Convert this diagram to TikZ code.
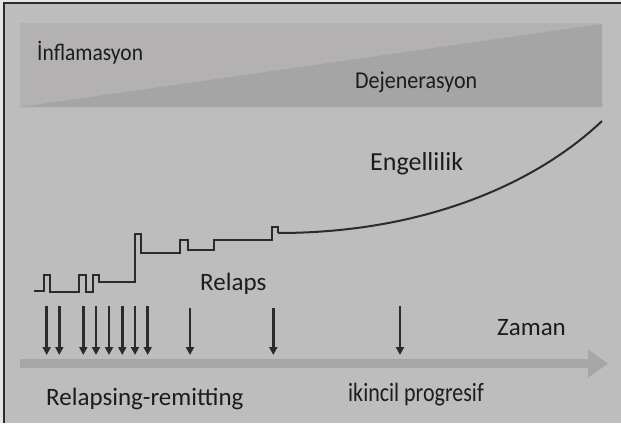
\documentclass[tikz,border=0pt]{standalone}
\usepackage{fontspec}
\setmainfont{Carlito}
\usetikzlibrary{arrows.meta}
\definecolor{bgc}{HTML}{BDBDBD}
\definecolor{bandc}{HTML}{B3B1B1}
\definecolor{tric}{HTML}{A5A5A5}
\definecolor{axisc}{HTML}{A6A6A6}
\definecolor{inkc}{HTML}{2B2B2B}
\definecolor{textc}{HTML}{1C1C1C}
\tikzset{
  lbl/.style={anchor=base west, inner sep=0pt, text=textc},
  relarrow/.style={draw=inkc, line width=2.7pt, -{Triangle[length=8pt,width=8pt]}},
  stepline/.style={draw=inkc, line width=2pt, line join=miter},
  curveline/.style={draw=inkc, line width=2pt},
  timeaxis/.style={draw=axisc, line width=9pt, -{Triangle[length=20pt,width=27pt]}}
}
\begin{document}
\begin{tikzpicture}[x=1pt,y=-1pt]
\useasboundingbox (0,0) rectangle (621,423);
\fill[white!90!black] (0,0) rectangle (621,423);
\fill[bgc] (4,3) rectangle (621,423);
\draw[inkc, line width=1.6pt] (4,423) -- (4,3) -- (621,3);
% top band
\fill[bandc] (20,23) rectangle (602,107);
\fill[tric] (20,107) -- (602,24) -- (602,107) -- cycle;
\node[lbl, font=\fontsize{21.5}{24}\selectfont] (infl) at (37,60) {\scalebox{1}[1.1]{İnflamasyon}};
\node[lbl, font=\fontsize{22}{24}\selectfont] (dej) at (355,88) {\scalebox{1}[1.1]{Dejenerasyon}};
% disability line
\draw[stepline] (34,291) -- (44,291) -- (44,274.5) -- (50,274.5) -- (50,291.5)
  -- (78.5,291.5) -- (78.5,274.5) -- (85.5,274.5) -- (85.5,291.5) -- (93,291.5)
  -- (93,274.5) -- (99,274.5) -- (99,282) -- (134.5,282) -- (134.5,234)
  -- (141,234) -- (141,253) -- (180,253) -- (180,239.5) -- (188,239.5)
  -- (188,249.5) -- (214,249.5) -- (214,239.5) -- (272,239.5) -- (272,227)
  -- (278,227) -- (278,233) coordinate (cstart);
\coordinate (cend) at (602,121);
\draw[curveline] (cstart) .. controls (430,233) and (540,180) .. (cend);
\node[lbl, font=\fontsize{26}{28}\selectfont] (eng) at (370,170) {Engellilik};
\node[lbl, font=\fontsize{25}{28}\selectfont] (rel) at (200,290.5) {Relaps};
% relapse arrows
\foreach \i/\x/\t in {1/46.7/306,2/59.3/306,3/83.3/306,4/96/306,5/109/306,6/122.3/306,7/135/306,8/147.7/306,9/190/308,10/273.3/308,11/400/306}{
  \coordinate (a\i) at (\x,\t);
  \coordinate (b\i) at (\x,355);
  \draw[relarrow] (a\i) -- (b\i);
}
% time axis
\coordinate (ax0) at (20,363.5);
\coordinate (ax1) at (608,363.5);
\draw[timeaxis] (ax0) -- (ax1);
\node[lbl, font=\fontsize{25}{28}\selectfont] (zam) at (497,335) {Zaman};
\node[lbl, font=\fontsize{25}{28}\selectfont] (rr) at (46,405) {Relapsing-remitting};
\node[lbl, font=\fontsize{22}{24}\selectfont] (ip) at (348,401.5) {\scalebox{1}[1.2]{ikincil progresif}};
\end{tikzpicture}
\end{document}
